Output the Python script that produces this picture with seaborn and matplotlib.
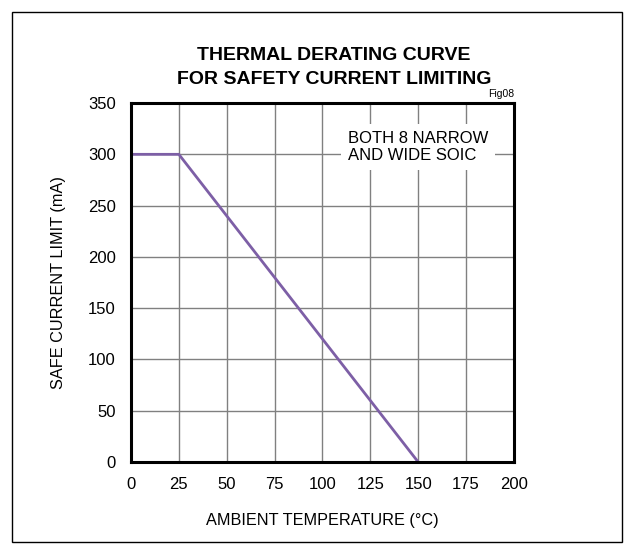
import matplotlib
matplotlib.use('Agg')
import matplotlib.pyplot as plt
import pandas as pd
import seaborn as sns
from matplotlib.patches import Rectangle

# derating curve points
temps = [0, 25, 150]
current = [300, 300, 0]
x_ticks = [0, 25, 50, 75, 100, 125, 150, 175, 200]
y_ticks = [0, 50, 100, 150, 200, 250, 300, 350]

sns.set_style('white')
plt.rcParams['font.family'] = ['Liberation Sans', 'DejaVu Sans']
plt.rcParams['text.color'] = 'black'
plt.rcParams['axes.labelcolor'] = 'black'

fig = plt.figure(figsize=(6.34, 5.54), dpi=100)
axes = fig.add_axes([0.2066, 0.166, 0.604, 0.648])

df = pd.DataFrame({'temp': temps, 'current': current})
sns.lineplot(data=df, x='temp', y='current', ax=axes, color='#7d5fa6',
             linewidth=2.0, zorder=3)

axes.set_xlim(0, 200)
axes.set_ylim(0, 350)
axes.set_xticks(x_ticks)
axes.set_yticks(y_ticks)
axes.grid(True, color='#808080', linewidth=1.0)
axes.tick_params(length=0, labelsize=12, colors='black')
axes.tick_params(axis='y', pad=11)
axes.tick_params(axis='x', pad=11)
for s in axes.spines.values():
    s.set_color('black')
    s.set_linewidth(2.2)
    s.set_zorder(4)

axes.set_xlabel('AMBIENT TEMPERATURE (°C)', fontsize=11.7, labelpad=15)
axes.set_ylabel('SAFE CURRENT LIMIT (mA)', fontsize=11.7, labelpad=16)

axes.text(113.3, 307, 'BOTH 8 NARROW\nAND WIDE SOIC', fontsize=12,
          ha='left', va='center', linespacing=1.15, zorder=5,
          bbox=dict(facecolor='white', edgecolor='none', pad=5))

fig.text(0.527, 0.9007, 'THERMAL DERATING CURVE', fontsize=14,
         fontweight='bold', ha='center', va='center')
fig.text(0.527, 0.8565, 'FOR SAFETY CURRENT LIMITING', fontsize=14,
         fontweight='bold', ha='center', va='center')
fig.text(0.770, 0.830, 'Fig08', fontsize=7.5, ha='left', va='center')

fig.patches.append(Rectangle((12 / 634, 12 / 554), 610 / 634, 530 / 554,
                             transform=fig.transFigure, fill=False,
                             edgecolor='black', linewidth=1.0))

fig.savefig('out.png', dpi=100)
